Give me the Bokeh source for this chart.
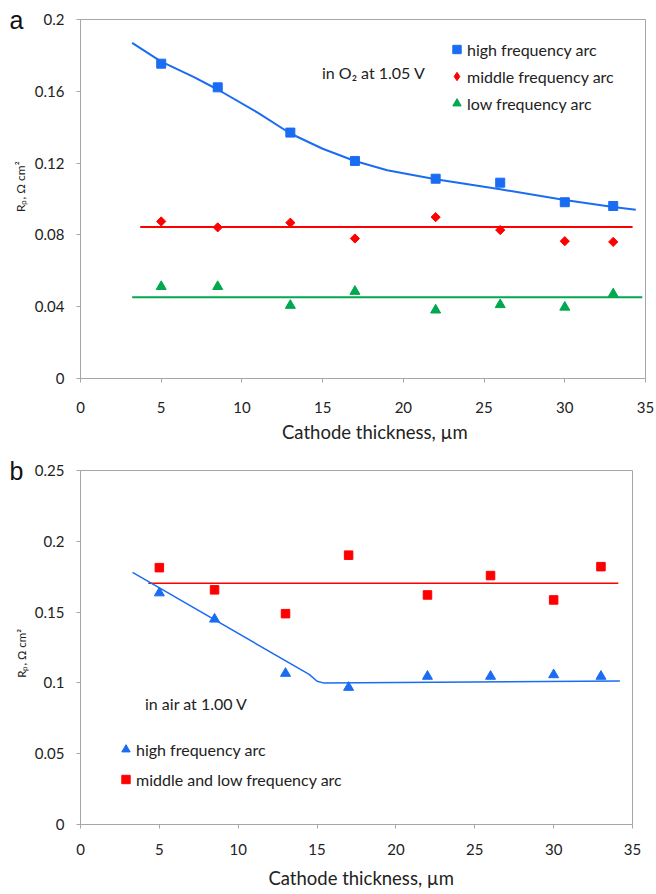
from bokeh.plotting import figure
from bokeh.layouts import column
from bokeh.models import (Legend, LegendItem, Label, FixedTicker, CustomJSTickFormatter,
                          LinearAxis)
from bokeh.embed import file_html
from bokeh.resources import INLINE
import math

FONT = "Lato"
BLUE = "#1a6cf2"
RED = "#ff0000"
GREEN = "#00a84f"
GRAY = "#a6a6a6"
TXT = "#222222"
NB = "\u00a0"

# ---------------- data: panel a (in O2 at 1.05 V) ----------------
thick_a = [5, 8.5, 13, 17, 22, 26, 30, 33]
high_a = [0.1754, 0.1622, 0.1370, 0.1212, 0.1113, 0.1091, 0.0982, 0.0961]
middle_a = [0.0875, 0.0842, 0.0868, 0.0780, 0.0899, 0.0827, 0.0765, 0.0761]
low_a = [0.0512, 0.0512, 0.0407, 0.0485, 0.0381, 0.0411, 0.0397, 0.0471]
high_fit_x_a = [3.2, 5, 7, 8.5, 11, 13, 15, 17, 19, 22, 26, 30, 33, 34.4]
high_fit_y_a = [0.187, 0.1765, 0.168, 0.161, 0.148, 0.1365, 0.128, 0.1212, 0.116,
                0.111, 0.1054, 0.0994, 0.0955, 0.094]
middle_fit_x_a = [3.7, 34.2]
middle_fit_y_a = [0.0844, 0.0844]
low_fit_x_a = [3.2, 34.8]
low_fit_y_a = [0.0453, 0.0453]

# ---------------- data: panel b (in air at 1.00 V) ----------------
thick_b = [5, 8.5, 13, 17, 22, 26, 30, 33]
high_b = [0.1635, 0.1450, 0.1067, 0.0968, 0.1046, 0.1046, 0.1057, 0.1046]
midlow_b = [0.1814, 0.1657, 0.1489, 0.1902, 0.1621, 0.1758, 0.1586, 0.1821]
high_fit_x_b = [3.3, 14.5, 15.0, 15.4, 34.2]
high_fit_y_b = [0.178, 0.106, 0.1012, 0.1000, 0.1013]
midlow_fit_x_b = [4.3, 34.1]
midlow_fit_y_b = [0.1704, 0.1704]

x_ticks = [0, 5, 10, 15, 20, 25, 30, 35]
y_ticks_a = [0, 0.04, 0.08, 0.12, 0.16, 0.2]
y_ticks_b = [0, 0.05, 0.1, 0.15, 0.2, 0.25]
y_label = "R\u209a, \u03a9 cm\u00b2"
x_label = "Cathode thickness, \u00b5m"

yfmt = "return tick.toFixed(2).replace(/\\.?0+$/, '');"


def style(p, yticks, std_x, std_xl, letter, ytop, xlab, ylab, ylab_size):
    p.outline_line_color = GRAY
    p.outline_line_width = 1
    p.grid.visible = False
    p.xaxis.ticker = FixedTicker(ticks=x_ticks)
    p.yaxis.ticker = FixedTicker(ticks=yticks)
    p.yaxis.formatter = CustomJSTickFormatter(code=yfmt)
    for ax in (p.xaxis[0], p.yaxis[0]):
        ax.axis_line_color = GRAY
        ax.major_tick_line_color = GRAY
        ax.minor_tick_line_color = None
        ax.major_tick_in = 0
        ax.major_tick_out = 4
        ax.major_label_text_font = FONT
        ax.major_label_text_font_size = "15px"
        ax.major_label_text_color = TXT
        ax.axis_label_text_font = FONT
        ax.axis_label_text_font_style = "normal"
        ax.axis_label_text_color = TXT
    p.xaxis.axis_label = xlab
    p.xaxis.axis_label_text_font_size = "18.5px"
    p.xaxis.major_label_standoff = std_x
    p.xaxis.axis_label_standoff = std_xl
    p.yaxis.major_label_standoff = 12
    # outer left axis: carries the panel letter (as its only tick label) and the axis title
    outer = LinearAxis(ticker=FixedTicker(ticks=[ytop]),
                       formatter=CustomJSTickFormatter(code="return '%s';" % letter),
                       axis_line_color=None, major_tick_line_color=None,
                       minor_tick_line_color=None, major_tick_in=0, major_tick_out=0,
                       major_label_standoff=8,
                       major_label_text_font="Liberation Sans",
                       major_label_text_font_size="25px",
                       major_label_text_color="#111111",
                       axis_label=ylab, axis_label_standoff=-21,
                       axis_label_text_font=FONT, axis_label_text_font_size=ylab_size,
                       axis_label_text_font_style="normal", axis_label_text_color=TXT)
    p.add_layout(outer, "left")


def legend(items, loc, spacing):
    return Legend(items=items, location=loc, orientation="vertical",
                  glyph_width=21, glyph_height=22, label_height=22, label_standoff=0,
                  spacing=spacing, padding=0, margin=0,
                  border_line_color=None, background_fill_alpha=0,
                  label_text_font=FONT, label_text_font_size="16px", label_text_color=TXT)


# ---------------- panel a ----------------
pa = figure(frame_width=565, frame_height=359, x_range=(0, 35), y_range=(0, 0.2),
            min_border_left=80, min_border_right=11, min_border_top=19, min_border_bottom=67,
            output_backend="svg", toolbar_location=None)
style(pa, y_ticks_a, 19, 5, "a", 0.2, NB * 5 + x_label, NB * 8 + y_label, "12px")

pa.line(high_fit_x_a, high_fit_y_a, line_color=BLUE, line_width=2)
pa.line(middle_fit_x_a, middle_fit_y_a, line_color=RED, line_width=2)
pa.line(low_fit_x_a, low_fit_y_a, line_color=GREEN, line_width=2)
r_ha = pa.scatter(thick_a, high_a, marker="square", size=9, fill_color=BLUE, line_color=BLUE)
r_ma = pa.scatter(thick_a, middle_a, marker="square", size=6.5, angle=math.pi / 4,
                  fill_color=RED, line_color=RED)
r_la = pa.scatter(thick_a, low_a, marker="triangle", size=10, fill_color=GREEN, line_color=GREEN)
# hidden twin of the middle series, used only for its diamond legend swatch
r_ma_key = pa.scatter(thick_a, middle_a, marker="diamond", fill_color=RED, line_color=RED,
                      visible=False)

pa.add_layout(legend([LegendItem(label="high frequency arc", renderers=[r_ha]),
                      LegendItem(label="middle frequency arc", renderers=[r_ma_key]),
                      LegendItem(label="low frequency arc", renderers=[r_la])],
                     (366, 264), 5))

pa.add_layout(Label(x=14.96, y=0.1706, text="in O\u2082 at 1.05 V", text_font=FONT,
                    text_font_size="16px", text_color=TXT, text_baseline="middle"))

# ---------------- panel b ----------------
pb = figure(frame_width=552, frame_height=354, x_range=(0, 35), y_range=(0, 0.25),
            min_border_left=80, min_border_right=24, min_border_top=25, min_border_bottom=70,
            output_backend="svg", toolbar_location=None)
style(pb, y_ticks_b, 15, 9, "b", 0.25, NB * 2 + x_label, y_label + NB * 4, "11.5px")

pb.line(midlow_fit_x_b, midlow_fit_y_b, line_color=RED, line_width=1.5)
pb.line(high_fit_x_b, high_fit_y_b, line_color=BLUE, line_width=1.5)
r_hb = pb.scatter(thick_b, high_b, marker="triangle", size=10, fill_color=BLUE, line_color=BLUE)
r_mb = pb.scatter(thick_b, midlow_b, marker="square", size=8.5, fill_color=RED, line_color=RED)

pb.add_layout(legend([LegendItem(label="high frequency arc", renderers=[r_hb]),
                      LegendItem(label="middle and low frequency arc", renderers=[r_mb])],
                     (35, 34), 8))

pb.add_layout(Label(x=4.09, y=0.0853, text="in air at 1.00 V", text_font=FONT,
                    text_font_size="16px", text_color=TXT, text_baseline="middle"))

layout = column(pa, pb, spacing=0)
open("out.html", "w").write(file_html(layout, INLINE))
